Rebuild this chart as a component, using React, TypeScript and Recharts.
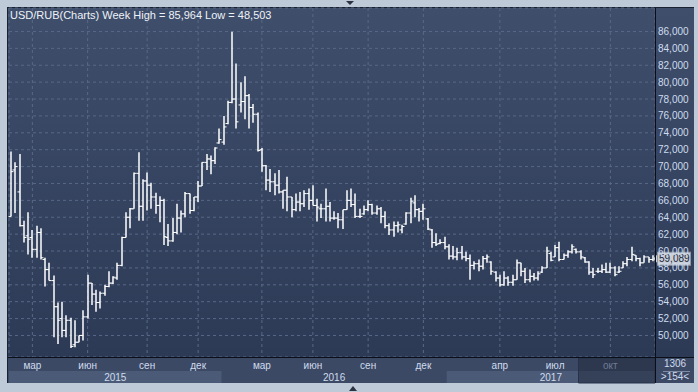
import React from 'react';
import {
  ComposedChart,
  Bar,
  XAxis,
  YAxis,
  CartesianGrid,
  ReferenceArea,
  ReferenceLine,
} from 'recharts';

// weekly USD/RUB bars, late Jan 2015 -> Oct 2017
const OPEN = [
  64.1, 69.6, 67.0, 63.0, 61.8, 61.6, 60.2, 62.2, 59.0, 57.8, 56.5, 53.4, 52.0, 50.6, 51.8, 48.9, 49.2, 50.0, 52.2, 56.2,
  54.9, 53.9, 55.0, 55.8, 56.2, 56.8, 58.3, 61.6, 64.0, 65.0, 69.2, 65.3, 68.3, 67.8, 66.4, 65.4, 66.0, 61.6, 61.2, 62.2,
  63.9, 64.4, 66.8, 64.8, 66.4, 67.7, 70.5, 70.9, 70.7, 72.8, 72.9, 75.1, 77.6, 78.0, 77.3, 77.7, 78.4, 77.0, 76.2, 72.0,
  70.1, 68.4, 68.2, 67.8, 67.0, 67.2, 66.4, 64.9, 65.8, 65.6, 66.8, 66.0, 65.4, 65.0, 65.0, 65.3, 63.9, 63.9, 63.7, 64.9,
  66.0, 65.5, 64.1, 64.4, 64.9, 65.5, 64.5, 65.0, 64.1, 63.0, 62.5, 63.0, 62.5, 63.2, 64.5, 65.7, 64.9, 64.7, 63.8, 62.5,
  61.0, 60.9, 61.0, 60.5, 59.4, 59.3, 59.8, 59.3, 59.1, 58.3, 58.5, 58.2, 59.1, 58.7, 57.5, 56.8, 56.0, 56.8, 56.3, 56.6,
  58.6, 57.6, 56.6, 57.0, 56.8, 57.5, 58.0, 59.7, 59.3, 60.4, 59.0, 59.5, 59.9, 60.2, 59.9, 59.2, 58.7, 57.5, 57.6, 57.6,
  57.8, 57.5, 58.0, 57.5, 58.0, 58.5, 59.0, 59.5, 59.1, 58.6, 59.3, 59.0,
];
const HIGH = [
  71.8, 70.5, 71.5, 63.6, 64.6, 62.5, 63.0, 62.7, 59.2, 58.6, 57.1, 53.9, 54.0, 52.4, 52.1, 51.8, 50.0, 53.0, 57.2, 56.2,
  55.4, 55.2, 56.0, 57.6, 57.0, 58.6, 61.7, 64.6, 65.1, 69.3, 71.7, 68.5, 69.3, 68.1, 66.9, 66.5, 66.2, 63.2, 63.9, 65.6,
  64.8, 67.0, 66.8, 66.4, 68.3, 70.5, 71.5, 71.3, 72.3, 74.5, 76.0, 77.8, 85.964, 82.2, 80.0, 80.7, 78.6, 77.4, 76.4, 72.2,
  70.2, 69.7, 69.2, 69.6, 67.2, 68.8, 66.4, 66.8, 67.0, 67.2, 67.4, 67.8, 66.2, 65.6, 67.4, 65.8, 64.7, 64.5, 64.9, 67.2,
  67.4, 66.8, 65.0, 65.4, 66.0, 65.6, 65.4, 65.2, 64.7, 63.3, 63.5, 63.5, 63.1, 64.6, 66.3, 66.6, 65.1, 65.6, 63.9, 62.6,
  62.1, 61.4, 61.7, 60.8, 60.6, 60.4, 60.6, 59.9, 59.6, 58.8, 59.0, 59.4, 59.6, 58.8, 57.6, 57.2, 57.6, 57.0, 57.2, 59.0,
  58.6, 58.0, 57.8, 57.4, 57.6, 58.2, 60.5, 59.9, 60.7, 61.1, 59.7, 60.1, 60.8, 60.3, 60.1, 59.3, 58.8, 58.0, 58.0, 58.4,
  58.6, 58.6, 58.2, 58.2, 58.8, 59.3, 60.5, 59.5, 59.2, 59.5, 59.3, 59.5,
];
const LOW = [
  64.1, 64.5, 62.9, 61.0, 59.6, 59.2, 59.2, 59.0, 55.8, 56.5, 49.8, 49.0, 49.8, 49.8, 48.503, 48.6, 49.2, 49.4, 52.0, 53.6,
  52.8, 53.2, 54.7, 55.7, 56.1, 56.6, 58.2, 61.6, 62.7, 65.0, 63.6, 63.6, 64.8, 65.0, 64.4, 63.4, 60.7, 60.6, 61.1, 62.0,
  62.2, 64.0, 64.4, 64.7, 65.8, 67.7, 69.6, 69.1, 70.3, 72.7, 72.6, 75.0, 77.5, 74.5, 76.4, 75.6, 74.5, 75.2, 71.8, 69.4,
  67.2, 67.0, 66.6, 66.8, 65.0, 64.7, 64.0, 64.7, 64.7, 65.2, 64.9, 65.4, 63.5, 63.9, 63.5, 63.5, 63.7, 62.7, 62.6, 64.9,
  65.2, 63.9, 63.9, 64.3, 64.7, 64.3, 64.3, 63.3, 62.7, 61.9, 61.7, 62.2, 62.1, 63.1, 63.3, 64.0, 63.5, 63.7, 62.5, 60.4,
  60.6, 60.8, 60.2, 59.0, 59.0, 58.9, 59.0, 58.8, 56.6, 57.8, 57.6, 57.8, 58.6, 57.2, 56.4, 55.8, 55.9, 55.9, 55.9, 56.6,
  57.0, 56.2, 56.3, 56.5, 56.5, 57.4, 58.0, 58.8, 59.3, 58.8, 59.0, 59.2, 59.7, 59.7, 59.0, 58.6, 57.2, 56.8, 57.4, 57.4,
  57.4, 57.4, 57.0, 57.4, 58.0, 58.2, 58.8, 58.8, 58.2, 58.6, 58.6, 58.8,
];
const CLOSE = [
  69.4, 70.0, 63.0, 61.6, 61.4, 60.2, 62.2, 59.2, 57.8, 56.5, 53.4, 51.8, 50.6, 51.8, 48.7, 49.2, 50.0, 52.2, 56.2, 54.9,
  53.9, 55.0, 55.8, 56.2, 56.9, 58.3, 61.6, 64.0, 65.0, 69.2, 65.3, 68.3, 67.8, 66.4, 65.4, 66.0, 61.7, 61.2, 62.2, 63.9,
  64.4, 66.8, 64.8, 66.4, 67.7, 70.5, 70.9, 70.7, 72.2, 73.2, 74.7, 77.6, 78.0, 75.3, 77.7, 78.4, 77.0, 76.2, 71.9, 70.1,
  68.4, 68.2, 67.8, 67.0, 67.2, 66.4, 64.9, 65.8, 65.6, 66.8, 66.0, 65.4, 65.2, 65.0, 65.3, 63.9, 63.9, 63.7, 64.9, 66.0,
  65.5, 64.1, 64.1, 64.9, 65.5, 64.5, 65.0, 64.1, 63.0, 62.5, 63.0, 63.1, 62.9, 64.5, 65.9, 64.9, 64.7, 65.0, 62.6, 61.0,
  60.8, 61.0, 60.5, 59.4, 59.3, 59.8, 59.3, 59.1, 58.3, 58.5, 58.2, 59.1, 59.3, 57.6, 56.8, 56.0, 56.8, 56.3, 56.6, 58.6,
  57.6, 56.6, 57.0, 56.8, 57.3, 58.0, 60.0, 58.9, 60.4, 59.0, 59.5, 59.9, 60.5, 59.9, 59.3, 58.7, 57.5, 57.2, 57.6, 57.8,
  57.5, 58.0, 57.2, 57.6, 58.5, 59.0, 59.6, 59.1, 58.6, 59.3, 59.0, 59.089,
];

const Y_TICKS = [50, 52, 54, 56, 58, 60, 62, 64, 66, 68, 70, 72, 74, 76, 78, 80, 82, 84, 86];
const MONTH_TICKS = [6, 19, 33, 45, 60, 72, 85, 98, 116, 129, 142];
const MONTH_LABELS = ['мар', 'июн', 'сен', 'дек', 'мар', 'июн', 'сен', 'дек', 'апр', 'июл', 'окт'];
const YEARS = ['2015', '2016', '2017'];
const YEAR_FIRST = [1, 51, 104];
const YEAR_LAST = [50, 103, 152];
const DIMMED_FROM = 135;

const data = OPEN.map((o, i) => ({
  w: i + 1,
  o,
  h: HIGH[i],
  l: LOW[i],
  c: CLOSE[i],
  range: [LOW[i], HIGH[i]],
}));
const last = CLOSE[CLOSE.length - 1];

const FONT = '"Liberation Sans", Arial, sans-serif';
const AXIS_TEXT = '#cfdcee';
const Y_DOMAIN: [number, number] = [47.45, 88.78];
// value band under the plot used for the year strip
const YEAR_ROW: [number, number] = [44.37, 45.79];
const MONTH_ROW_TOP = 47.33;

function OhlcBar(props: any) {
  const { x, y, width, height, payload } = props;
  if (x == null || !payload) return null;
  const top = Math.min(y, y + height);
  const bot = Math.max(y, y + height);
  const span = payload.h - payload.l;
  const py = (v: number) => (span > 0 ? top + ((payload.h - v) / span) * (bot - top) : top);
  const cx = Math.round(x + width / 2);
  const t = 2.5;
  return (
    <g stroke="#ffffff" fill="none">
      <line x1={cx} x2={cx} y1={top} y2={Math.max(bot, top + 1)} strokeWidth={1.5} />
      <line x1={cx - t} x2={cx} y1={py(payload.o)} y2={py(payload.o)} strokeWidth={1} />
      <line x1={cx} x2={cx + t} y1={py(payload.c)} y2={py(payload.c)} strokeWidth={1} />
    </g>
  );
}

function MonthTick(props: any) {
  const { x, y, payload } = props;
  const i = MONTH_TICKS.indexOf(payload.value);
  const dim = payload.value >= DIMMED_FROM;
  return (
    <text x={x} y={y} dy={10} textAnchor="middle" fontFamily={FONT} fontSize={10}
      fill={dim ? '#6d7b94' : AXIS_TEXT}>
      {MONTH_LABELS[i]}
    </text>
  );
}

function PriceTag(props: any) {
  const { viewBox } = props;
  if (!viewBox) return null;
  const x = viewBox.x + viewBox.width;
  const cy = viewBox.y;
  return (
    <g>
      <polygon points={`${x - 2},${cy} ${x + 3},${cy - 5} ${x + 3},${cy + 5}`} fill="#c9cfd8" />
      <rect x={x + 2.5} y={cy - 6.5} width={33} height={13} fill="#c9cfd8" stroke="#8d97a6" strokeWidth={1} />
      <text x={x + 4} y={cy} dy="0.36em" fontFamily={FONT} fontSize={10} fill="#1c2638">
        {last.toFixed(3).replace('.', ',')}
      </text>
    </g>
  );
}

const abs = (left: number, top: number, width: number, height: number, extra: React.CSSProperties = {}) =>
  ({ position: 'absolute', left, top, width, height, ...extra } as React.CSSProperties);

export default function App() {
  return (
    <div style={{ position: 'fixed', left: 0, top: 0, width: 698, height: 392, background: '#bfcad9', overflow: 'hidden' }}>
      <div
        style={abs(7, 7, 687, 376, {
          borderLeft: '1px solid #1a2232',
          borderTop: '1px solid #1a2232',
          boxSizing: 'border-box',
          background:
            'linear-gradient(180deg, #3f4e6b 0px, #2c3a56 350px, #3c4965 350px, #3c4965 376px)',
        })}
      />
      <div style={abs(0, 0, 698, 392)}>
        <ComposedChart
          width={698}
          height={392}
          data={data}
          margin={{ top: 8, right: 4, bottom: 9, left: 9 }}
          barCategoryGap={0}
        >
          <CartesianGrid stroke="#586886" strokeDasharray="3 3" />
          <XAxis
            dataKey="w"
            ticks={MONTH_TICKS}
            interval={0}
            tick={<MonthTick />}
            axisLine={false}
            tickLine={false}
            tickSize={0}
            height={26}
          />
          <YAxis
            orientation="right"
            domain={Y_DOMAIN}
            allowDataOverflow
            ticks={Y_TICKS}
            interval={0}
            width={39}
            axisLine={false}
            tickLine={false}
            tickSize={0}
            tickMargin={3}
            tickFormatter={(v: number) => `${v},000`}
            tick={{ fill: AXIS_TEXT, fontSize: 10, fontFamily: FONT, textAnchor: 'start' }}
          />
          {YEARS.map((yr, k) => (
            <ReferenceArea
              key={yr}
              x1={YEAR_FIRST[k]}
              x2={YEAR_LAST[k]}
              y1={YEAR_ROW[0]}
              y2={YEAR_ROW[1]}
              ifOverflow="visible"
              fill={k === 1 ? 'none' : '#4b5a77'}
              fillOpacity={1}
              stroke="none"
              label={{ value: yr, position: 'center', fill: AXIS_TEXT, fontSize: 10, fontFamily: FONT }}
            />
          ))}
          <ReferenceArea
            x1={DIMMED_FROM}
            x2={YEAR_LAST[2]}
            y1={YEAR_ROW[0]}
            y2={MONTH_ROW_TOP}
            ifOverflow="visible"
            fill="#1e273a"
            fillOpacity={0.5}
            stroke="#27324a"
          />
          <Bar dataKey="range" shape={<OhlcBar />} isAnimationActive={false} />
          <ReferenceLine y={last} stroke="none" label={<PriceTag />} />
        </ComposedChart>
      </div>
      <div style={abs(655, 8, 1, 375, { background: '#0a0e16' })} />
      <div style={abs(8, 357, 686, 1, { background: '#0a0e16' })} />
      <div
        style={abs(10, 8, 300, 14, {
          color: '#eef2f8',
          fontFamily: FONT,
          fontSize: 11,
          lineHeight: '14px',
          whiteSpace: 'nowrap',
        })}
      >
        USD/RUB(Charts) Week High = 85,964 Low = 48,503
      </div>
      <div style={abs(656, 358, 38, 12, { color: AXIS_TEXT, fontFamily: FONT, fontSize: 10, lineHeight: '12px', textAlign: 'center' })}>
        1306
      </div>
      <div style={abs(663, 371, 27, 1, { background: '#7d8ba3' })} />
      <div style={abs(656, 371, 38, 12, { color: AXIS_TEXT, fontFamily: FONT, fontSize: 10, lineHeight: '12px', textAlign: 'center' })}>
        {'>154<'}
      </div>
      <svg style={abs(345, 0, 10, 6)} width={10} height={6}>
        <polygon points="1,1 9,1 5,5" fill="#2b3342" />
      </svg>
      <svg style={abs(348, 385, 10, 7)} width={10} height={7}>
        <polygon points="1,6 9,6 5,1" fill="#2b3342" />
      </svg>
    </div>
  );
}
